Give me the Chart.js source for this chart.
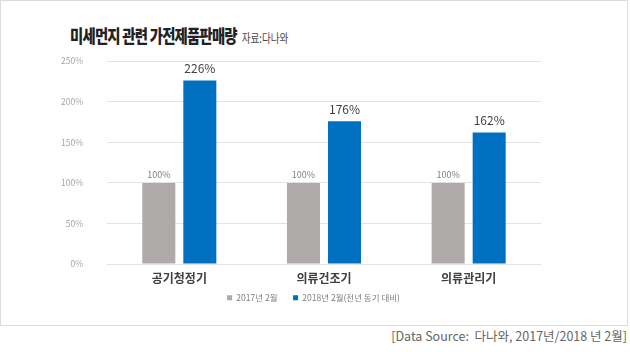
<!DOCTYPE html>
<html>
<head>
<meta charset="utf-8">
<script src="https://cdn.jsdelivr.net/npm/chart.js@4"></script>
<style>
	body { margin: 0; background: #fff; font-family: "Noto Sans CJK KR", sans-serif; }
	#wrap { position: relative; width: 630px; height: 352px; overflow: hidden; }
	#box { position: absolute; left: 0; top: 0; width: 626px; height: 324px; border: 1px solid #dcdcdc; }
	#title { position: absolute; left: 70px; top: 22px; white-space: nowrap; transform: scaleX(0.8); transform-origin: left top; }
	#title b { font-size: 18px; font-weight: 900; color: #222; letter-spacing: -1px; }
	#title span { font-size: 12px; color: #444; margin-left: 6px; }
	#myChart { position: absolute; left: 0; top: 32px; }
	#source { position: absolute; right: 3px; top: 326px; font-size: 12.5px; color: #666; white-space: nowrap; }
</style>
</head>
<body>
<div id="wrap">
	<div id="box"></div>
	<div id="title"><b>미세먼지 관련 가전제품판매량</b><span>자료:다나와</span></div>
	<canvas id="myChart" width="627" height="290"></canvas>
	<div id="source">[Data Source:&nbsp; 다나와, 2017년/2018 년 2월]</div>
</div>
<script>
const categories = ["공기청정기", "의류건조기", "의류관리기"];
const seriesNames = ["2017년 2월", "2018년 2월(전년 동기 대비)"];
const values2017 = [100, 100, 100];
const values2018 = [226, 176, 162];

// 막대 위 값 표시
const valueLabels = {
	id: "valueLabels",
	afterDatasetsDraw(chart) {
		const ctx = chart.ctx;
		chart.data.datasets.forEach((ds, i) => {
			const meta = chart.getDatasetMeta(i);
			meta.data.forEach((bar, j) => {
				ctx.save();
				ctx.textAlign = "center";
				ctx.textBaseline = "bottom";
				if (i === 0) {
					ctx.font = "9px 'Noto Sans CJK KR'";
					ctx.fillStyle = "#7f7f7f";
					ctx.fillText(ds.data[j] + "%", bar.x, bar.y - 4);
				} else {
					ctx.font = "12px 'Noto Sans CJK KR'";
					ctx.fillStyle = "#404040";
					ctx.fillText(ds.data[j] + "%", bar.x, bar.y - 6);
				}
				ctx.restore();
			});
		});
	},
};

const ctx = document.getElementById("myChart").getContext("2d");
new Chart(ctx, {
	type: "bar",
	data: {
		labels: categories,
		datasets: [
			{ label: seriesNames[0], data: values2017, backgroundColor: "#aeaaaa" },
			{ label: seriesNames[1], data: values2018, backgroundColor: "#0070c0" },
		],
	},
	options: {
		responsive: false,
		animation: false,
		categoryPercentage: 0.567,
		barPercentage: 0.805,
		layout: { padding: { left: 37, right: 37, top: 8, bottom: 10 } },
		scales: {
			x: {
				grid: { display: false },
				border: { display: false },
				ticks: {
					color: "#404040",
					padding: -1,
					font: { size: 12, family: "Noto Sans CJK KR", weight: "bold" },
				},
				afterFit: (scale) => {
					scale.height += 1;
				},
			},
			y: {
				min: 0,
				max: 250,
				border: { display: false },
				grid: { color: "#e3e3e3", drawTicks: false },
				ticks: {
					stepSize: 50,
					padding: 24,
					color: "#a6a6a6",
					font: { size: 8.5, family: "Noto Sans CJK KR" },
					callback: (v) => v + "%",
				},
			},
			// 오른쪽 여백용 빈 축 (범례는 가운데 유지)
			yRight: {
				position: "right",
				display: true,
				grid: { display: false },
				border: { display: false },
				ticks: { display: false },
				afterFit: (scale) => {
					scale.width = 49;
				},
			},
		},
		plugins: {
			legend: {
				position: "bottom",
				labels: {
					boxWidth: 5,
					boxHeight: 5,
					padding: 8,
					color: "#7f7f7f",
					font: { size: 8.5, family: "Noto Sans CJK KR" },
					// 첫 항목 뒤 간격을 넓힘
					generateLabels: (chart) =>
						Chart.defaults.plugins.legend.labels
							.generateLabels(chart)
							.map((item, i) => {
								if (i === 0) item.text = item.text + "    ";
								return item;
							}),
				},
			},
			tooltip: { enabled: false },
		},
	},
	plugins: [valueLabels],
});
</script>
</body>
</html>
